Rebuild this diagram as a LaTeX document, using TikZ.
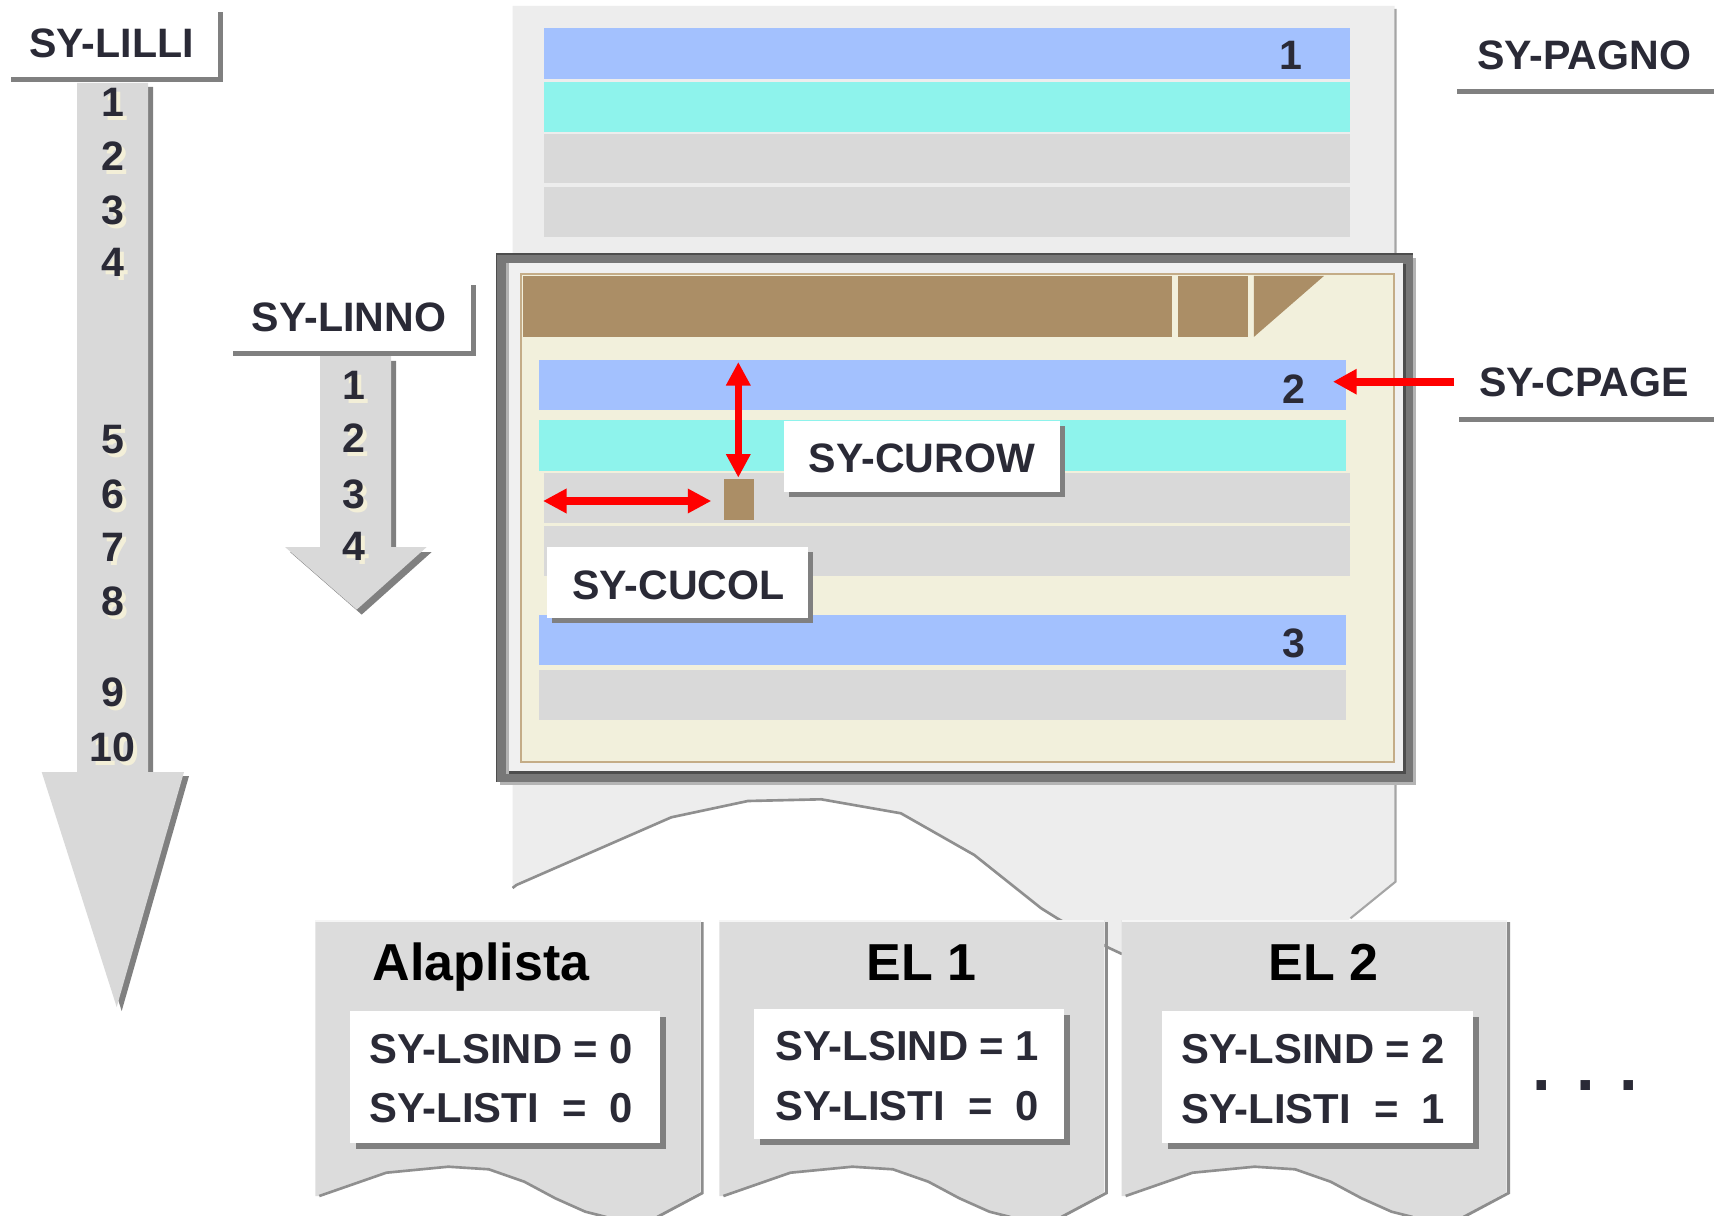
\documentclass[tikz,border=0pt]{standalone}
\usepackage{fontspec}
\setmainfont{Liberation Sans}
\usetikzlibrary{arrows.meta}
\newcommand{\mylbl}{\fontsize{23.4}{28}\selectfont\bfseries}
\newcommand{\mylst}{\fontsize{23.8}{28}\selectfont\bfseries}
\newcommand{\myttl}{\fontsize{29.6}{36}\selectfont\bfseries}
\newcommand{\mydots}{\fontsize{38}{44}\selectfont\bfseries}
\newcommand{\shdig}[1]{\rlap{\smash{\raisebox{-2.27pt}{\hspace{2.27pt}\textcolor{cream}{#1}}}}#1}
\definecolor{pagefill}{HTML}{EDEDED}
\definecolor{barblue}{HTML}{A3C1FE}
\definecolor{barcyan}{HTML}{8EF3EC}
\definecolor{bargray}{HTML}{D9D9D9}
\definecolor{tbrown}{HTML}{AB8E66}
\definecolor{beige}{HTML}{F2F0DC}
\definecolor{tanline}{HTML}{C4AC87}
\definecolor{txt}{HTML}{2A2A36}
\definecolor{shgray}{HTML}{808080}
\definecolor{arrowfill}{HTML}{D9D9D9}
\definecolor{listfill}{HTML}{DCDCDC}
\definecolor{wavegray}{HTML}{8F8F8F}
\definecolor{cream}{HTML}{F3EFD8}
\definecolor{framegray}{HTML}{777777}
\definecolor{framedark}{HTML}{4D4D4D}
\definecolor{frameshadow}{HTML}{B4B4B4}
\definecolor{framelight}{HTML}{F0F0F0}
\begin{document}
\begin{tikzpicture}[x=0.02cm,y=-0.02cm,
  lab/.style={inner sep=0pt,font=\mylbl,text=txt,anchor=base},
  lst/.style={inner sep=0pt,font=\mylst,text=txt},
  ttl/.style={inner sep=0pt,font=\myttl,text=black,anchor=base},
  dig/.style={inner sep=0pt,font=\mylbl,text=txt,anchor=center},
  wave/.style={draw=wavegray,line width=1.5pt,line join=round},
  pageedge/.style={draw=wavegray!80,line width=1.2pt},
  redarr/.style={draw=red,line width=4.5pt,-{Triangle[length=13.4pt,width=13.6pt]}},
  reddbl/.style={draw=red,line width=4.3pt,{Triangle[length=13.4pt,width=13.2pt]}-{Triangle[length=13.4pt,width=13.2pt]}}
]
\useasboundingbox (0,0) rectangle (1714,1216);
\fill[white] (0,0) rectangle (1714,1216);

% ---- page ----
\fill[pagefill] (512.6,6) -- (1394.5,6) -- (1394.5,881.7) -- (1350.5,918.3) -- (1300,960) -- (1200,975) -- (1122,954) -- (1107,947) -- (1057.2,918.3) -- (1041.2,908.3) -- (974.3,855) -- (900.9,813.3) -- (821.2,799.3) -- (747.9,801) -- (671.3,817.3) -- (516.4,885) -- (512.6,888) -- cycle;
\draw[wave] (512.6,888) -- (516.4,885) -- (671.3,817.3) -- (747.9,801) -- (821.2,799.3) -- (900.9,813.3) -- (974.3,855) -- (1041.2,908.3) -- (1057.2,918.3) -- (1107,947) -- (1122,954);
\draw[pageedge] (1395.5,9) -- (1395.5,881.7) -- (1350.5,918.3);

% top page bars
\fill[barblue] (544.2,28) rectangle (1350,78.7);
\fill[barcyan] (544.2,82) rectangle (1350,131.7);
\fill[bargray] (544.2,134) rectangle (1350,183.3);
\fill[bargray] (544.2,187) rectangle (1350,236.7);
\node[lab] (pg1) at (1291,70) {1};

% ---- window frame ----
\fill[frameshadow] (500,258) rectangle (1416,785);
\fill[framegray] (496,253.3) rectangle (1412.7,781.7);
\draw[framedark,line width=0.8pt] (496.7,781.7) -- (496.7,254) -- (1412.7,254);
\fill[framedark] (509,264) rectangle (1406,774);
\fill[gray!60] (506,263.3) rectangle (509.3,774);
\fill[framelight] (509.3,263.3) rectangle (1402.7,770.7);
\filldraw[fill=beige,draw=tanline,line width=1pt] (520.8,274) rectangle (1394.2,761.7);

% toolbar
\fill[tbrown] (523,276) rectangle (1171.7,337);
\fill[tbrown] (1177.5,276) rectangle (1248,337);
\fill[tbrown] (1253.8,276) -- (1323.9,276) -- (1253.8,337) -- cycle;

% list lines in window
\fill[barblue] (539,359.8) rectangle (1345.7,409.8);
\fill[barcyan] (539,420) rectangle (1345.7,470.7);
\fill[bargray] (544.3,473) rectangle (1349.7,523);
\fill[bargray] (544.3,525.8) rectangle (1349.7,575.7);
\fill[barblue] (539,615.3) rectangle (1345.7,664.6);
\fill[bargray] (539,670.4) rectangle (1345.7,719.7);
\node[lab] (pg2) at (1294,403) {2};
\node[lab] (pg3) at (1294,657) {3};

% cursor
\fill[tbrown] (724,478.6) rectangle (753.8,519.6);
\coordinate (rowtop) at (738.3,362);
\coordinate (rowbot) at (738.3,477.6);
\coordinate (colleft) at (543,501);
\coordinate (colright) at (711.3,501);
\draw[reddbl] (rowtop) -- (rowbot);
\draw[reddbl] (colleft) -- (colright);

% SY-CUROW / SY-CUCOL
\fill[shgray] (789,426.5) rectangle (1064.8,497);
\fill[white] (784,421.5) rectangle (1059.8,492);
\node[lab] (curow) at (922,472) {SY-CUROW};
\fill[shgray] (552,551.5) rectangle (813.4,622.8);
\fill[white] (547,546.5) rectangle (808.4,617.8);
\node[lab] (cucol) at (678.5,599) {SY-CUCOL};

% ---- big left arrow (SY-LILLI) ----
\fill[shgray,shift={(5,4)}] (77,83) -- (148,83) -- (148,772) -- (184,772) -- (116.7,1007) -- (41.7,772) -- (77,772) -- cycle;
\fill[arrowfill] (77,83) -- (148,83) -- (148,772) -- (184,772) -- (116.7,1007) -- (41.7,772) -- (77,772) -- cycle;
\foreach \n/\yy in {1/102.5,2/156,3/210,4/262.5,5/440,6/494,7/547,8/601,9/692,10/747}{
  \node[dig] (lld\n) at (112.5,\yy) {\shdig{\n}};
}
\fill[white] (11,12) rectangle (218,77);
\fill[shgray] (218,12) rectangle (223,82);
\fill[shgray] (11,77) rectangle (223,82);
\node[lab] (lilli) at (111.5,58) {SY-LILLI};

% ---- small arrow (SY-LINNO) ----
\fill[shgray,shift={(5,5)}] (320,356) -- (391,356) -- (391,547) -- (426.7,547) -- (356.7,609.6) -- (285,547) -- (320,547) -- cycle;
\fill[arrowfill] (320,356) -- (391,356) -- (391,547) -- (426.7,547) -- (356.7,609.6) -- (285,547) -- (320,547) -- cycle;
\foreach \n/\yy in {1/385,2/438.5,3/494,4/546.5}{
  \node[dig] (lnd\n) at (354,\yy) {\shdig{\n}};
}
\fill[white] (233,285) rectangle (471,351);
\fill[shgray] (471,285) rectangle (476,356);
\fill[shgray] (233,351) rectangle (476,356);
\node[lab] (linno) at (349,332) {SY-LINNO};

% ---- right labels ----
\node[lab] (pagno) at (1584,70) {SY-PAGNO};
\fill[shgray] (1457,89.3) rectangle (1714,94);
\node[lab] (cpage) at (1584,397) {SY-CPAGE};
\fill[shgray] (1459,416.7) rectangle (1714,421.7);
\coordinate (cptail) at (1454,381.7);
\coordinate (cphead) at (1333,381.7);
\draw[redarr] (cptail) -- (cphead);

% ---- list pages ----
\foreach \bx in {315.3,719.4,1121.6}{
  \fill[listfill] (\bx,920) -- (\bx+385,920) -- (\bx+385,1192) -- (\bx+340,1217) -- (\bx+291,1217) -- (\bx+270,1211.7) -- (\bx+240,1198.3) -- (\bx+209,1181.7) -- (\bx+173.5,1169.3) -- (\bx+133,1166.7) -- (\bx+71,1172.7) -- (\bx+4,1196) -- (\bx,1196) -- cycle;
  \fill[white!96!black] (\bx,920) rectangle (\bx+385,922);
  \draw[draw=shgray!90,line width=1.6pt] (\bx+387,922) -- (\bx+387,1193) -- (\bx+342,1217);
  \draw[wave] (\bx+4,1196) -- (\bx+71,1172.7) -- (\bx+133,1166.7) -- (\bx+173.5,1169.3) -- (\bx+209,1181.7) -- (\bx+240,1198.3) -- (\bx+270,1211.7) -- (\bx+291,1217);
}
\node[ttl] (t0) at (481,980) {Alaplista};
\node[ttl] (t1) at (921.4,980) {EL 1};
\node[ttl] (t2) at (1323.6,980) {EL 2};

% inner value boxes
\fill[shgray] (356,1017) rectangle (665.7,1148.7);
\fill[white] (350,1011) rectangle (659.7,1142.7);
\node[lst,anchor=base west] (a1) at (369,1063) {SY-LSIND = 0};
\node[lst,anchor=base west] (a2) at (369,1122) {SY-LISTI};
\node[lst,anchor=base east] (a3) at (a1.base east |- a2.base) {=\hspace{0.55em}0};

\fill[shgray] (760,1015.3) rectangle (1070.3,1145.3);
\fill[white] (754,1009.3) rectangle (1064.3,1139.3);
\node[lst,anchor=base west] (b1) at (775,1060) {SY-LSIND = 1};
\node[lst,anchor=base west] (b2) at (775,1120) {SY-LISTI};
\node[lst,anchor=base east] (b3) at (b1.base east |- b2.base) {=\hspace{0.55em}0};

\fill[shgray] (1168,1017) rectangle (1479,1148.7);
\fill[white] (1162,1011) rectangle (1473,1142.7);
\node[lst,anchor=base west] (c1) at (1181,1063) {SY-LSIND = 2};
\node[lst,anchor=base west] (c2) at (1181,1123) {SY-LISTI};
\node[lst,anchor=base east] (c3) at (c1.base east |- c2.base) {=\hspace{0.55em}1};

\node[inner sep=0pt,font=\mydots,text=txt,anchor=base] (more) at (1585.5,1090.7) {. . .};
\end{tikzpicture}
\end{document}
